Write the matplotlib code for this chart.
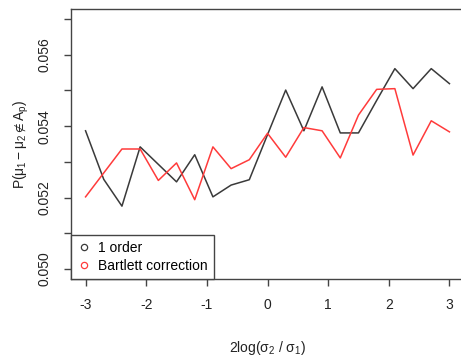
import numpy as np
import matplotlib.pyplot as plt
from matplotlib.lines import Line2D

plt.rcParams['font.family'] = ['Liberation Sans', 'DejaVu Sans']
plt.rcParams['mathtext.fontset'] = 'custom'
plt.rcParams['mathtext.rm'] = 'Liberation Sans'
plt.rcParams['mathtext.it'] = 'Liberation Sans'

# x grid: 2log(sigma2/sigma1)
x = [-3.0, -2.7, -2.4, -2.1, -1.8, -1.5, -1.2, -0.9, -0.6, -0.3, 0.0,
     0.3, 0.6, 0.9, 1.2, 1.5, 1.8, 2.1, 2.4, 2.7, 3.0]

first_order = [0.05387, 0.05251, 0.05176, 0.05342, 0.05293, 0.05244, 0.05320,
               0.05202, 0.05235, 0.05250, 0.05376, 0.05501, 0.05387, 0.05510,
               0.05381, 0.05381, 0.05472, 0.05561, 0.05505, 0.05561, 0.05519]

bartlett = [0.05202, 0.05269, 0.05336, 0.05336, 0.05248, 0.05297, 0.05194,
            0.05342, 0.05281, 0.05306, 0.05380, 0.05313, 0.05396, 0.05387,
            0.05311, 0.05431, 0.05503, 0.05505, 0.05319, 0.05415, 0.05384]

col_black = '#3a3a3a'
col_red = '#ff3b3b'
fs = 10

fig = plt.figure(figsize=(4.61, 3.56), dpi=100)
W, H = 461, 356
# axes box in pixels: left 71, top 9, bottom 279, right beyond the image edge
ax = fig.add_axes([71 / W, 1 - 279 / H, (464 - 71) / W, (279 - 9) / H])

ax.plot(x, first_order, color=col_black, lw=1.1)
ax.plot(x, bartlett, color=col_red, lw=1.1)

ax.set_xlim(-3.24, 3.24)
ax.set_ylim(0.04972, 0.05728)
ax.set_xticks([-3, -2, -1, 0, 1, 2, 3])
ax.set_xticklabels(['-3', '-2', '-1', '0', '1', '2', '3'])
yt = [0.050, 0.051, 0.052, 0.053, 0.054, 0.055, 0.056, 0.057]
ax.set_yticks(yt)
ax.set_yticklabels(['0.050', '', '0.052', '', '0.054', '', '0.056', ''],
                   rotation=90, va='center')

for s in ax.spines.values():
    s.set_color('#444444')
    s.set_linewidth(1.0)
ax.tick_params(colors='#444444', labelcolor='#222222', labelsize=fs,
               length=5, width=1.0, pad=9)

ax.set_xlabel(r'2log($\sigma_2\ /\ \sigma_1$)', fontsize=fs, color='#222222',
              labelpad=19)
ax.set_ylabel(r'P($\mu_1 - \mu_2 \notin A_p$)', fontsize=fs, color='#222222',
              labelpad=5)

handles = [
    Line2D([], [], ls='none', marker='o', mfc='none', mec=col_black, ms=4.5, mew=0.9),
    Line2D([], [], ls='none', marker='o', mfc='none', mec=col_red, ms=4.5, mew=0.9),
]
leg = ax.legend(handles, ['1 order', 'Bartlett correction'], loc='lower left',
                bbox_to_anchor=(0, 0), borderaxespad=0, fontsize=fs,
                fancybox=False, framealpha=1, edgecolor='#444444',
                handlelength=1.0, handletextpad=0.5, labelspacing=0.25,
                borderpad=0.45)
leg.get_frame().set_linewidth(1.0)

fig.savefig('out.png', dpi=100)
